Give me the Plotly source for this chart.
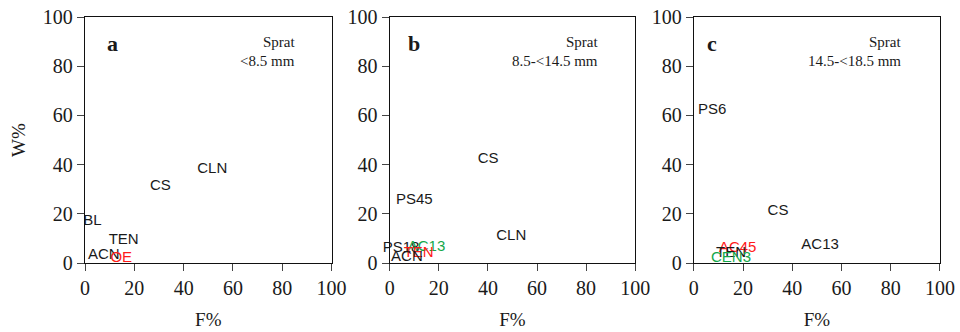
import plotly.graph_objects as go

# ---- data ----
a_labels = ["CLN", "CS", "BL", "TEN", "ACN", "OE"]
a_F = [51.6, 30.6, 3.0, 15.7, 7.6, 14.7]
a_W = [38.1, 31.0, 17.0, 9.3, 3.1, 1.8]
a_group = ["k", "k", "k", "k", "k", "r"]

b_labels = ["CS", "PS45", "CLN", "PS18", "AC13", "TEN", "ACN"]
b_F = [40.1, 10.0, 49.5, 4.6, 15.0, 11.8, 7.0]
b_W = [42.3, 25.6, 10.9, 5.9, 6.3, 4.0, 2.2]
b_group = ["k", "k", "k", "k", "g", "r", "k"]

c_labels = ["PS6", "CS", "AC13", "AC45", "TEN", "CEN3"]
c_F = [7.4, 34.2, 51.3, 17.8, 15.1, 15.1]
c_W = [62.2, 21.1, 7.2, 6.0, 4.0, 1.9]
c_group = ["k", "k", "k", "r", "k", "g"]

panel_letters = ["a", "b", "c"]
panel_titles = ["Sprat", "Sprat", "Sprat"]
panel_sizes = ["<8.5 mm", "8.5-<14.5 mm", "14.5-<18.5 mm"]
tick_vals = [0, 20, 40, 60, 80, 100]

# ---- style ----
colors = {"k": "#1a1a1a", "r": "#ff1a1a", "g": "#14a84a"}
serif = "Liberation Serif, Times New Roman, serif"
sans = "Liberation Sans, Arial, sans-serif"

domains = [[0.0, 0.2884], [0.3564, 0.6435], [0.7121, 1.0]]
panels = [(a_labels, a_F, a_W, a_group), (b_labels, b_F, b_W, b_group), (c_labels, c_F, c_W, c_group)]

fig = go.Figure()
for i, (labs, fx, wy, grp) in enumerate(panels):
    xa = "x" if i == 0 else f"x{i+1}"
    ya = "y" if i == 0 else f"y{i+1}"
    for lab, fv, wv, g in zip(labs, fx, wy, grp):
        fig.add_trace(go.Scatter(
            x=[fv], y=[wv], mode="text", text=[lab],
            textposition="middle center",
            textfont=dict(family=sans, size=15, color=colors[g]),
            xaxis=xa, yaxis=ya, showlegend=False, hoverinfo="skip",
            cliponaxis=False))

axis_common = dict(
    range=[0, 100], tickvals=tick_vals, ticks="outside", ticklen=7,
    tickcolor="#444", showline=True, linecolor="#111", linewidth=1.3,
    mirror=True, showgrid=False, zeroline=False,
    tickfont=dict(family=serif, size=20, color="#1a1a1a"),
)

layout = dict(
    width=960, height=332, plot_bgcolor="white", paper_bgcolor="white",
    margin=dict(l=84.5, r=20, t=17, b=69, autoexpand=False),
    showlegend=False,
)
for i in range(3):
    xk = "xaxis" if i == 0 else f"xaxis{i+1}"
    yk = "yaxis" if i == 0 else f"yaxis{i+1}"
    xa = "x" if i == 0 else f"x{i+1}"
    ya = "y" if i == 0 else f"y{i+1}"
    layout[xk] = dict(axis_common, domain=domains[i], anchor=ya,
                      title=dict(text="F%", font=dict(family=serif, size=19, color="#1a1a1a"), standoff=14))
    ydict = dict(axis_common, domain=[0, 1], anchor=xa)
    if i == 0:
        ydict["title"] = dict(text="W%", font=dict(family=serif, size=19, color="#1a1a1a"), standoff=12)
    layout[yk] = ydict

fig.update_layout(**layout)

letter_x = [0.11, 0.097, 0.073]
text_right = [0.86, 0.855, 0.849]
for i in range(3):
    xr = "x domain" if i == 0 else f"x{i+1} domain"
    yr = "y domain" if i == 0 else f"y{i+1} domain"
    fig.add_annotation(x=letter_x[i], y=0.894, xref=xr, yref=yr, text=f"<b>{panel_letters[i]}</b>",
                       xanchor="center", yanchor="middle",
                       showarrow=False, font=dict(family=serif, size=22, color="#1a1a1a"))
    fig.add_annotation(x=text_right[i], y=0.90, xref=xr, yref=yr, text=panel_titles[i],
                       xanchor="right", yanchor="middle",
                       showarrow=False, font=dict(family=serif, size=15, color="#1a1a1a"))
    fig.add_annotation(x=text_right[i], y=0.822, xref=xr, yref=yr, text=panel_sizes[i],
                       xanchor="right", yanchor="middle",
                       showarrow=False, font=dict(family=serif, size=15, color="#1a1a1a"))

fig.write_html("out.html", config={"displayModeBar": False},
               post_script="document.body.style.margin='0';document.body.style.padding='0';")
